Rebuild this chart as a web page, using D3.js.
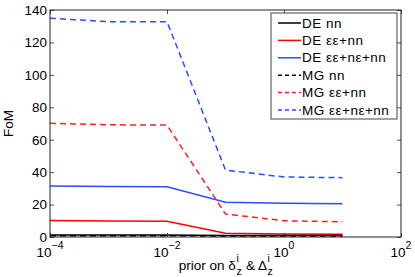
<!DOCTYPE html>
<html>
<head>
<meta charset="utf-8">
<script src="https://cdn.jsdelivr.net/npm/d3@7"></script>
<style>
  html, body { margin: 0; padding: 0; background: #fff; }
  svg { display: block; font-family: "Liberation Sans", Arial, Helvetica, sans-serif; }
</style>
</head>
<body>
<svg id="chart" width="415" height="277"></svg>
<script>
// data
const priors = [1e-4, 1e-3, 1e-2, 1e-1, 1e0, 1e1];
const deNN      = [1.2, 1.2, 1.2, 0.9, 0.9, 0.9];
const deEENN    = [10.2, 9.8, 9.7, 2.3, 1.8, 1.7];
const deEENENN  = [31.5, 31.1, 31.0, 21.4, 20.8, 20.5];
const mgNN      = [0.8, 0.8, 0.8, 0.6, 0.6, 0.6];
const mgEENN    = [70.1, 69.2, 69.0, 14.2, 10.0, 9.4];
const mgEENENN  = [134.9, 132.8, 132.8, 41.3, 37.0, 36.6];

const series = [
  { name: "DE nn",          values: deNN,     color: "#000000", dash: null },
  { name: "DE εε+nn",       values: deEENN,   color: "#ff0000", dash: null },
  { name: "DE εε+nε+nn",    values: deEENENN, color: "#2a4cff", dash: null },
  { name: "MG nn",          values: mgNN,     color: "#000000", dash: "6,4" },
  { name: "MG εε+nn",       values: mgEENN,   color: "#ff2020", dash: "6,4" },
  { name: "MG εε+nε+nn",    values: mgEENENN, color: "#2a4cff", dash: "6,4" },
];

const xTicks = [1e-4, 1e-2, 1e0, 1e2];
const xTickExp = ["−4", "−2", "0", "2"];
const yTicks = [0, 20, 40, 60, 80, 100, 120, 140];

const svg = d3.select("#chart");
const mLeft = 50, mRight = 401, mTop = 10, mBottom = 237;

const x = d3.scaleLog().domain([1e-4, 1e2]).range([mLeft, mRight]);
const y = d3.scaleLinear().domain([0, 140]).range([mBottom, mTop]);

// plot background
svg.append("rect")
  .attr("x", mLeft).attr("y", mTop)
  .attr("width", mRight - mLeft).attr("height", mBottom - mTop)
  .attr("fill", "#fff");

const line = d3.line()
  .x((d, i) => x(priors[i]))
  .y(d => y(d));

// black ones last so they sit on top near zero
const drawOrder = [2, 1, 5, 4, 0, 3];
for (const k of drawOrder) {
  const s = series[k];
  svg.append("path")
    .datum(s.values)
    .attr("d", line)
    .attr("fill", "none")
    .attr("stroke", s.color)
    .attr("stroke-width", 1.5)
    .attr("stroke-dasharray", s.dash);
}

// axes: ticks point inward on all four sides
const axisColor = "#222";
function styleAxis(g) {
  g.select(".domain").remove();
  g.selectAll(".tick line").attr("stroke", axisColor).attr("stroke-width", 0.8);
}

svg.append("g")
  .attr("transform", `translate(${mLeft},0)`)
  .call(d3.axisLeft(y).tickValues(yTicks).tickSizeInner(-4).tickSizeOuter(0).tickPadding(3))
  .call(styleAxis)
  .call(g => g.selectAll(".tick text")
    .attr("font-size", 13.5)
    .attr("font-family", "Liberation Sans, Arial, sans-serif")
    .attr("fill", "#000"));

svg.append("g")
  .attr("transform", `translate(${mRight},0)`)
  .call(d3.axisRight(y).tickValues(yTicks).tickSizeInner(-4).tickSizeOuter(0).tickFormat(""))
  .call(styleAxis);

svg.append("g")
  .attr("transform", `translate(0,${mBottom})`)
  .call(d3.axisBottom(x).tickValues(xTicks).tickSizeInner(-4).tickSizeOuter(0).tickFormat(""))
  .call(styleAxis);

svg.append("g")
  .attr("transform", `translate(0,${mTop})`)
  .call(d3.axisTop(x).tickValues(xTicks).tickSizeInner(-4).tickSizeOuter(0).tickFormat(""))
  .call(styleAxis);

// x tick labels with superscript exponent
xTicks.forEach((v, i) => {
  const t = svg.append("text")
    .attr("y", 257)
    .attr("font-size", 13.5)
    .attr("fill", "#000");
  t.append("tspan").text("10");
  t.append("tspan").attr("dy", -8).attr("font-size", 10.5).text(xTickExp[i]);
  const w = t.node().getComputedTextLength();
  t.attr("x", x(v) - w / 2);
});

// box
svg.append("rect")
  .attr("x", mLeft).attr("y", mTop)
  .attr("width", mRight - mLeft).attr("height", mBottom - mTop)
  .attr("fill", "none")
  .attr("stroke", axisColor)
  .attr("stroke-width", 1);

// y label
svg.append("text")
  .attr("transform", `translate(13,${(mTop + mBottom) / 2}) rotate(-90)`)
  .attr("text-anchor", "middle")
  .attr("font-size", 13.5)
  .attr("fill", "#000")
  .text("FoM");

// x label: prior on δ^i_z & Δ^i_z (stacked sup/sub)
(function xLabel() {
  const g = svg.append("g");
  const base = 270;
  const parts = [
    { t: "prior on δ", sup: "i", sub: "z" },
    { t: " & Δ", sup: "i", sub: "z" },
  ];
  let cx = 0;
  for (const p of parts) {
    const m = g.append("text").attr("x", cx).attr("y", base)
      .attr("font-size", 13.5).attr("fill", "#000")
      .attr("xml:space", "preserve").text(p.t);
    cx += m.node().getComputedTextLength();
    const sp = g.append("text").attr("x", cx + 0.5).attr("y", base - 8)
      .attr("font-size", 10.5).attr("fill", "#000").text(p.sup);
    const sb = g.append("text").attr("x", cx + 0.5).attr("y", base + 5)
      .attr("font-size", 10.5).attr("fill", "#000").text(p.sub);
    cx += Math.max(sp.node().getComputedTextLength(), sb.node().getComputedTextLength()) + 1;
  }
  g.attr("transform", `translate(${226 - cx / 2},0)`);
})();

// legend
const lg = svg.append("g").attr("transform", "translate(271,13)");
lg.append("rect")
  .attr("width", 126).attr("height", 106)
  .attr("fill", "#fff")
  .attr("stroke", "#444")
  .attr("stroke-width", 1);
series.forEach((s, i) => {
  const cy = 10 + i * 17.4;
  lg.append("line")
    .attr("x1", 7).attr("x2", 30)
    .attr("y1", cy).attr("y2", cy)
    .attr("stroke", s.color)
    .attr("stroke-width", 1.5)
    .attr("stroke-dasharray", s.dash ? "4,3" : null);
  lg.append("text")
    .attr("x", 31).attr("y", cy + 4.5)
    .attr("font-size", 13.5)
    .attr("letter-spacing", 0.5)
    .attr("fill", "#000")
    .text(s.name);
});
</script>
</body>
</html>
